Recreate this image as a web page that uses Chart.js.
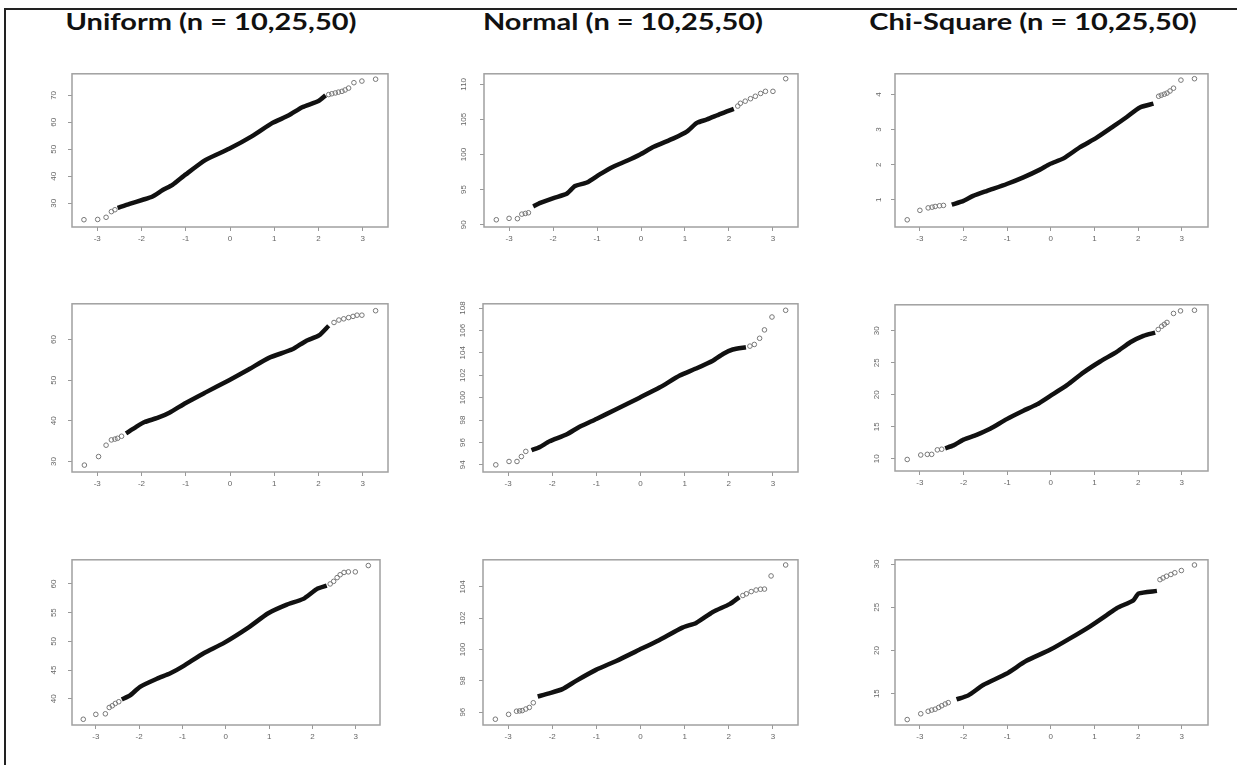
<!DOCTYPE html>
<html lang="en">
<head>
    <meta charset="UTF-8">
    <title>QQ plots - Uniform, Normal, Chi-Square</title>
    <script src="https://cdn.jsdelivr.net/npm/chart.js"></script>
    <style>
        body {
            margin: 0;
            width: 1237px;
            height: 765px;
            background: #fff;
            position: relative;
            overflow: hidden;
            font-family: Lato, Arial, sans-serif;
        }
        .frame {
            position: absolute;
            left: 4px;
            top: 8px;
            width: 1240px;
            height: 770px;
            border-left: 2px solid #222;
            border-top: 2px solid #222;
        }
        .title {
            position: absolute;
            top: 7px;
            width: 400px;
            text-align: center;
            font-weight: bold;
            font-size: 23px;
            color: #111;
            transform: scaleX(1.26);
            transform-origin: center;
        }
        .panel {
            position: absolute;
        }
    </style>
</head>
<body>
    <div class="frame"></div>
    <div class="title" style="left: 11px;">Uniform (n = 10,25,50)</div>
    <div class="title" style="left: 423px;">Normal (n = 10,25,50)</div>
    <div class="title" style="left: 833px;">Chi-Square (n = 10,25,50)</div>

    <div id="panels"></div>

    <script>
        // shared x ticks (theoretical quantiles)
        const xTicks = [-3, -2, -1, 0, 1, 2, 3];

        // Uniform, row 1
        const uni1CoreX = [-2.54, -2.27, -1.97, -1.75, -1.52, -1.30, -1.0, -0.55, -0.02, 0.50, 0.95, 1.33, 1.63, 2.0, 2.16];
        const uni1CoreY = [28.3, 29.8, 31.3, 32.5, 34.9, 36.8, 40.7, 46.1, 50.2, 54.9, 59.7, 62.6, 65.6, 67.9, 70.0];
        const uni1TailX = [-3.30, -2.99, -2.80, -2.68, -2.60, 2.23, 2.30, 2.38, 2.45, 2.53, 2.60, 2.68, 2.80, 2.98, 3.29];
        const uni1TailY = [23.9, 24.0, 24.8, 26.9, 27.6, 70.3, 70.6, 70.9, 71.2, 71.5, 72.0, 72.7, 74.7, 75.3, 76.0];
        const uni1YTicks = [30, 40, 50, 60, 70];

        // Normal, row 1
        const nor1CoreX = [-2.45, -2.29, -1.99, -1.69, -1.50, -1.23, -0.93, -0.62, -0.32, -0.02, 0.29, 0.74, 1.05, 1.27, 1.50, 1.81, 2.11];
        const nor1CoreY = [92.6, 93.1, 93.8, 94.4, 95.5, 96.0, 97.2, 98.3, 99.1, 100.0, 101.1, 102.3, 103.3, 104.5, 105.0, 105.8, 106.5];
        const nor1TailX = [-3.29, -3.0, -2.81, -2.71, -2.63, -2.56, 2.20, 2.26, 2.37, 2.49, 2.60, 2.72, 2.83, 3.0, 3.29];
        const nor1TailY = [90.7, 90.9, 90.86, 91.5, 91.6, 91.7, 106.9, 107.3, 107.6, 107.95, 108.3, 108.7, 109.0, 109.0, 110.8];
        const nor1YTicks = [90, 95, 100, 105, 110];

        // Chi-Square, row 1
        const chi1CoreX = [-2.27, -2.0, -1.78, -1.47, -1.01, -0.63, -0.25, -0.02, 0.29, 0.67, 1.05, 1.43, 1.74, 2.04, 2.35];
        const chi1CoreY = [0.86, 0.97, 1.11, 1.25, 1.45, 1.64, 1.86, 2.02, 2.18, 2.50, 2.77, 3.09, 3.36, 3.63, 3.74];
        const chi1TailX = [-3.29, -3.0, -2.81, -2.72, -2.65, -2.55, -2.46, 2.47, 2.53, 2.60, 2.66, 2.73, 2.81, 2.98, 3.29];
        const chi1TailY = [0.43, 0.70, 0.77, 0.79, 0.81, 0.83, 0.84, 3.95, 3.98, 4.01, 4.04, 4.10, 4.18, 4.41, 4.45];
        const chi1YTicks = [1, 2, 3, 4];

        // Uniform, row 2
        const uni2CoreX = [-2.35, -2.12, -1.93, -1.64, -1.37, -1.0, -0.55, -0.02, 0.43, 0.88, 1.41, 1.71, 2.01, 2.23];
        const uni2CoreY = [36.9, 38.5, 39.7, 40.7, 42.0, 44.4, 47.0, 50.0, 52.7, 55.5, 57.6, 59.6, 61.0, 63.4];
        const uni2TailX = [-3.29, -2.97, -2.80, -2.68, -2.60, -2.54, -2.45, 2.35, 2.46, 2.57, 2.68, 2.78, 2.87, 2.98, 3.29];
        const uni2TailY = [29.1, 31.2, 34.0, 35.3, 35.5, 35.7, 36.2, 64.2, 64.8, 65.1, 65.4, 65.7, 66.0, 66.0, 67.1];
        const uni2YTicks = [30, 40, 50, 60];

        // Normal, row 2
        const nor2CoreX = [-2.47, -2.28, -2.06, -1.68, -1.38, -1.0, -0.55, -0.02, 0.43, 0.89, 1.26, 1.64, 1.87, 2.09, 2.39];
        const nor2CoreY = [95.3, 95.6, 96.1, 96.7, 97.4, 98.1, 98.96, 100.0, 100.9, 101.97, 102.6, 103.3, 103.9, 104.3, 104.5];
        const nor2TailX = [-3.28, -2.98, -2.80, -2.70, -2.60, 2.48, 2.58, 2.70, 2.81, 2.98, 3.29];
        const nor2TailY = [94.0, 94.3, 94.3, 94.74, 95.2, 104.6, 104.75, 105.3, 106.05, 107.2, 107.8];
        const nor2YTicks = [94, 96, 98, 100, 102, 104, 106, 108];

        // Chi-Square, row 2
        const chi2CoreX = [-2.42, -2.23, -2.0, -1.70, -1.39, -1.01, -0.63, -0.32, -0.02, 0.37, 0.75, 1.13, 1.51, 1.82, 2.12, 2.39];
        const chi2CoreY = [11.65, 12.1, 13.0, 13.75, 14.7, 16.2, 17.5, 18.5, 19.8, 21.5, 23.5, 25.2, 26.7, 28.2, 29.2, 29.7];
        const chi2TailX = [-3.29, -2.98, -2.83, -2.73, -2.60, -2.50, 2.46, 2.54, 2.60, 2.66, 2.81, 2.97, 3.29];
        const chi2TailY = [9.9, 10.6, 10.7, 10.7, 11.4, 11.5, 30.2, 30.7, 31.0, 31.3, 32.7, 33.1, 33.2];
        const chi2YTicks = [10, 15, 20, 25, 30];

        // Uniform, row 3
        const uni3CoreX = [-2.40, -2.21, -1.98, -1.59, -1.28, -0.98, -0.51, -0.05, 0.52, 0.98, 1.41, 1.79, 2.10, 2.33];
        const uni3CoreY = [39.9, 40.6, 42.1, 43.5, 44.45, 45.7, 47.95, 49.7, 52.4, 54.9, 56.4, 57.4, 59.1, 59.7];
        const uni3TailX = [-3.29, -3.0, -2.78, -2.69, -2.62, -2.55, -2.47, 2.41, 2.49, 2.57, 2.64, 2.73, 2.83, 2.99, 3.29];
        const uni3TailY = [36.45, 37.3, 37.4, 38.5, 38.8, 39.2, 39.5, 60.0, 60.45, 61.1, 61.6, 62.0, 62.1, 62.1, 63.2];
        const uni3YTicks = [40, 45, 50, 55, 60];

        // Normal, row 3
        const nor3CoreX = [-2.33, -2.07, -1.77, -1.46, -1.01, -0.55, -0.03, 0.42, 0.95, 1.26, 1.64, 2.02, 2.24];
        const nor3CoreY = [97.0, 97.2, 97.47, 98.0, 98.7, 99.27, 99.98, 100.6, 101.4, 101.7, 102.4, 102.9, 103.35];
        const nor3TailX = [-3.29, -2.99, -2.81, -2.74, -2.68, -2.60, -2.52, -2.43, 2.32, 2.40, 2.51, 2.62, 2.72, 2.81, 2.96, 3.29];
        const nor3TailY = [95.55, 95.86, 96.06, 96.08, 96.1, 96.2, 96.3, 96.6, 103.45, 103.56, 103.7, 103.8, 103.85, 103.86, 104.7, 105.4];
        const nor3YTicks = [96, 98, 100, 102, 104];

        // Chi-Square, row 3
        const chi3CoreX = [-2.16, -1.89, -1.55, -1.02, -0.56, -0.02, 0.44, 0.90, 1.28, 1.51, 1.89, 2.01, 2.43];
        const chi3CoreY = [14.33, 14.8, 16.0, 17.3, 18.8, 20.07, 21.4, 22.8, 24.1, 24.9, 25.8, 26.6, 26.9];
        const chi3TailX = [-3.29, -2.98, -2.81, -2.73, -2.65, -2.57, -2.50, -2.42, -2.35, 2.50, 2.57, 2.65, 2.75, 2.84, 2.99, 3.29];
        const chi3TailY = [12.0, 12.67, 12.96, 13.1, 13.2, 13.4, 13.6, 13.8, 13.96, 28.2, 28.4, 28.6, 28.8, 29.0, 29.26, 29.9];
        const chi3YTicks = [15, 20, 25, 30];

        // panel boxes in page pixels: [left, top, right, bottom] and axis limits
        const panels = [
            { box: [72, 67, 388, 227], x: [-3.57, 3.57], y: [21.2, 78.0], cx: uni1CoreX, cy: uni1CoreY, tx: uni1TailX, ty: uni1TailY, yt: uni1YTicks },
            { box: [484, 67, 798, 227], x: [-3.57, 3.57], y: [89.67, 111.5], cx: nor1CoreX, cy: nor1CoreY, tx: nor1TailX, ty: nor1TailY, yt: nor1YTicks },
            { box: [895, 67, 1208, 227], x: [-3.57, 3.6], y: [0.225, 4.59], cx: chi1CoreX, cy: chi1CoreY, tx: chi1TailX, ty: chi1TailY, yt: chi1YTicks },
            { box: [72, 297, 388, 472], x: [-3.57, 3.57], y: [27.4, 68.8], cx: uni2CoreX, cy: uni2CoreY, tx: uni2TailX, ty: uni2TailY, yt: uni2YTicks },
            { box: [483, 297, 798, 472], x: [-3.57, 3.57], y: [93.36, 108.38], cx: nor2CoreX, cy: nor2CoreY, tx: nor2TailX, ty: nor2TailY, yt: nor2YTicks },
            { box: [895, 298, 1208, 471], x: [-3.57, 3.6], y: [8.1, 34.05], cx: chi2CoreX, cy: chi2CoreY, tx: chi2TailX, ty: chi2TailY, yt: chi2YTicks },
            { box: [72, 553, 380, 725], x: [-3.55, 3.56], y: [35.45, 64.2], cx: uni3CoreX, cy: uni3CoreY, tx: uni3TailX, ty: uni3TailY, yt: uni3YTicks },
            { box: [483, 553, 798, 725], x: [-3.57, 3.57], y: [95.18, 105.73], cx: nor3CoreX, cy: nor3CoreY, tx: nor3TailX, ty: nor3TailY, yt: nor3YTicks },
            { box: [895, 553, 1208, 725], x: [-3.57, 3.6], y: [11.37, 30.5], cx: chi3CoreX, cy: chi3CoreY, tx: chi3TailX, ty: chi3TailY, yt: chi3YTicks }
        ];

        const PAD_L = 34, PAD_T = 8, PAD_R = 10, PAD_B = 26;

        // draws the R-style box around the plot region
        const boxPlugin = {
            id: 'box',
            afterDraw(chart) {
                const a = chart.chartArea;
                const ctx = chart.ctx;
                ctx.save();
                ctx.strokeStyle = '#a0a0a0';
                ctx.lineWidth = 1.5;
                ctx.strokeRect(a.left, a.top, a.right - a.left, a.bottom - a.top);
                ctx.restore();
            }
        };

        const zip = (xs, ys) => xs.map((v, i) => ({ x: v, y: ys[i] }));

        const host = document.getElementById('panels');
        panels.forEach((p, i) => {
            const [l, t, r, b] = p.box;
            const div = document.createElement('div');
            div.className = 'panel';
            div.style.left = (l - PAD_L) + 'px';
            div.style.top = (t - PAD_T) + 'px';
            div.style.width = (r - l + PAD_L + PAD_R) + 'px';
            div.style.height = (b - t + PAD_T + PAD_B) + 'px';
            const cv = document.createElement('canvas');
            div.appendChild(cv);
            host.appendChild(div);

            new Chart(cv.getContext('2d'), {
                type: 'scatter',
                data: {
                    datasets: [
                        {
                            type: 'line',
                            data: zip(p.cx, p.cy),
                            borderColor: '#111',
                            borderWidth: 4.5,
                            pointRadius: 0,
                            tension: 0.2,
                            fill: false
                        },
                        {
                            data: zip(p.tx, p.ty),
                            pointStyle: 'circle',
                            pointRadius: 2.3,
                            borderWidth: 1,
                            borderColor: '#777',
                            backgroundColor: 'rgba(0,0,0,0)'
                        }
                    ]
                },
                options: {
                    responsive: true,
                    maintainAspectRatio: false,
                    animation: false,
                    layout: { padding: { left: 0, top: PAD_T, right: PAD_R, bottom: 0 } },
                    plugins: {
                        legend: { display: false },
                        tooltip: { enabled: false }
                    },
                    scales: {
                        x: {
                            type: 'linear',
                            min: p.x[0],
                            max: p.x[1],
                            afterBuildTicks: s => { s.ticks = xTicks.map(v => ({ value: v })); },
                            afterFit: s => { s.height = PAD_B; },
                            border: { display: false },
                            grid: { drawOnChartArea: false, drawTicks: true, tickLength: 4, color: '#999', lineWidth: 1 },
                            ticks: { color: '#666', font: { family: 'Arial', size: 8 }, padding: 3, maxRotation: 0 }
                        },
                        y: {
                            type: 'linear',
                            min: p.y[0],
                            max: p.y[1],
                            afterBuildTicks: s => { s.ticks = p.yt.map(v => ({ value: v })); },
                            afterFit: s => { s.width = PAD_L; },
                            border: { display: false },
                            grid: { drawOnChartArea: false, drawTicks: true, tickLength: 4, color: '#999', lineWidth: 1 },
                            ticks: { color: '#666', font: { family: 'Arial', size: 8 }, padding: 10, minRotation: 90, maxRotation: 90, crossAlign: 'center' }
                        }
                    }
                },
                plugins: [boxPlugin]
            });
        });
    </script>
</body>
</html>
